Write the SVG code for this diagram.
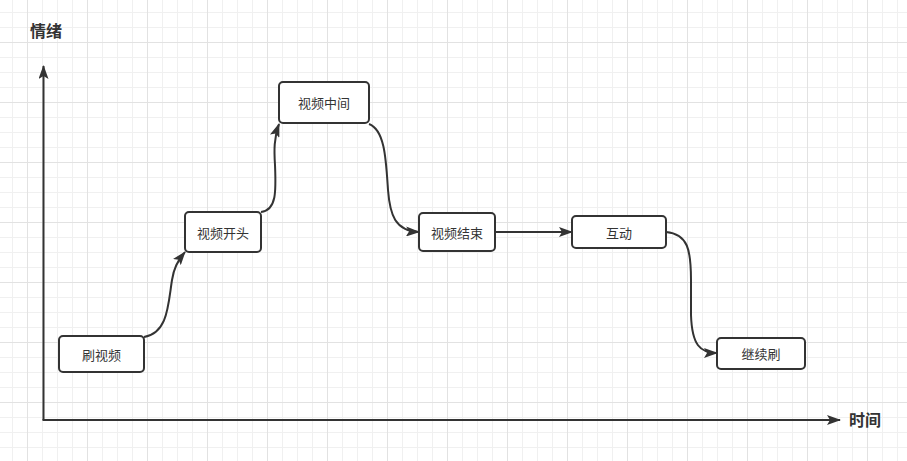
<svg xmlns="http://www.w3.org/2000/svg" width="907" height="461" viewBox="0 0 907 461">
<style>
.node rect{fill:#fff;stroke:#333;stroke-width:2;}
.node text{font-family:"Noto Sans CJK SC","Microsoft YaHei",sans-serif;font-size:13px;fill:#333;text-anchor:middle;dominant-baseline:central;}
.edge{fill:none;stroke:#333;stroke-width:2;}
.axislabel{font-family:"Noto Sans CJK SC",sans-serif;font-size:16px;font-weight:bold;fill:#333;text-anchor:middle;dominant-baseline:central;}
</style>
<defs>
<pattern id="grid" patternUnits="userSpaceOnUse" x="27" y="42" width="60" height="60">
<path d="M15.5,0V60M30.5,0V60M45.5,0V60M0,15.5H60M0,30.5H60M0,45.5H60" stroke="#f0f0f0" stroke-width="1" fill="none"/>
<path d="M0.5,0V60M0,0.5H60" stroke="#e2e2e2" stroke-width="1" fill="none"/>
</pattern>
<marker id="arrow" viewBox="0 0 14 10" refX="13" refY="5" markerWidth="14" markerHeight="10" markerUnits="userSpaceOnUse" orient="auto">
<path d="M0,0L14,5L0,10L3,5Z" fill="#333"/>
</marker>
</defs>
<rect width="907" height="461" fill="#fff"/>
<rect width="907" height="461" fill="url(#grid)"/>
<g id="axes">
<path class="edge" d="M43.5,420V66" marker-end="url(#arrow)"/>
<path class="edge" d="M42.5,420H840" marker-end="url(#arrow)"/>
<text class="axislabel" x="46" y="30">情绪</text>
<text class="axislabel" x="865" y="419">时间</text>
</g>
<g id="connectors">
<path class="edge" d="M144,337 C168,333 168,305 172,280 C174,268 177,262 185,252" marker-end="url(#arrow)"/>
<path class="edge" d="M261,212 C277,210 276,190 275,165 C274,150 274,138 279,124" marker-end="url(#arrow)"/>
<path class="edge" d="M369,124 C385,130 386,160 388,190 C390,215 395,231 419,232" marker-end="url(#arrow)"/>
<path class="edge" d="M495,232H572" marker-end="url(#arrow)"/>
<path class="edge" d="M666,232 C688,234 691,250 691,280 L691,315 C692,345 700,353 717,353" marker-end="url(#arrow)"/>
</g>
<g id="node-shua" class="node"><rect x="59" y="336" width="85" height="36" rx="4"/><text x="101.5" y="354">刷视频</text></g>
<g id="node-kaitou" class="node"><rect x="185" y="212" width="76" height="40" rx="4"/><text x="223" y="232">视频开头</text></g>
<g id="node-zhongjian" class="node"><rect x="279" y="82" width="90" height="41" rx="4"/><text x="324" y="102.5">视频中间</text></g>
<g id="node-jieshu" class="node"><rect x="419" y="213" width="76" height="38" rx="4"/><text x="457" y="232">视频结束</text></g>
<g id="node-hudong" class="node"><rect x="572" y="216" width="94" height="32" rx="4"/><text x="619" y="232">互动</text></g>
<g id="node-jixu" class="node"><rect x="717" y="338" width="88" height="31" rx="4"/><text x="761" y="353.5">继续刷</text></g>
</svg>
